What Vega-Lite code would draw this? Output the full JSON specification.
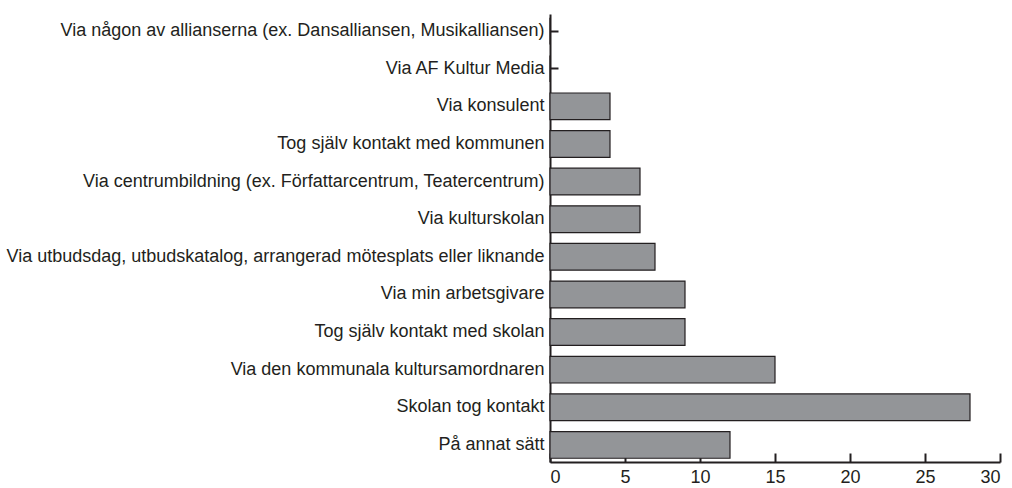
{
  "$schema": "https://vega.github.io/schema/vega-lite/v6.json",
  "autosize": "none",
  "width": 450,
  "height": 448,
  "padding": {"left": 550, "top": 14, "right": 12, "bottom": 26},
  "background": "white",
  "config": {
    "view": {"stroke": null},
    "font": "Liberation Sans",
    "axis": {"labelFont": "Liberation Sans", "labelFontSize": 18, "labelColor": "#231f20", "domainColor": "#231f20", "tickColor": "#231f20", "domainWidth": 2, "tickWidth": 2, "grid": false, "title": null}
  },
  "data": {"values": [
    {"kanal": "Via någon av allianserna (ex. Dansalliansen, Musikalliansen)", "antal": 0},
    {"kanal": "Via AF Kultur Media", "antal": 0},
    {"kanal": "Via konsulent", "antal": 4},
    {"kanal": "Tog själv kontakt med kommunen", "antal": 4},
    {"kanal": "Via centrumbildning (ex. Författarcentrum, Teatercentrum)", "antal": 6},
    {"kanal": "Via kulturskolan", "antal": 6},
    {"kanal": "Via utbudsdag, utbudskatalog, arrangerad mötesplats eller liknande", "antal": 7},
    {"kanal": "Via min arbetsgivare", "antal": 9},
    {"kanal": "Tog själv kontakt med skolan", "antal": 9},
    {"kanal": "Via den kommunala kultursamordnaren", "antal": 15},
    {"kanal": "Skolan tog kontakt", "antal": 28},
    {"kanal": "På annat sätt", "antal": 12}
  ]},
  "mark": {"type": "bar", "fill": "#939598", "stroke": "#231f20", "strokeWidth": 1.2},
  "encoding": {
    "y": {"field": "kanal", "type": "nominal", "sort": null,
      "scale": {"paddingInner": 0.29, "paddingOuter": 0.1},
      "axis": {"tickSize": -8, "labelPadding": 14, "labelLimit": 600}},
    "x": {"field": "antal", "type": "quantitative",
      "scale": {"domain": [0, 30], "nice": false},
      "axis": {"values": [0, 5, 10, 15, 20, 25, 30], "tickSize": -9, "labelPadding": 15}}
  }
}
